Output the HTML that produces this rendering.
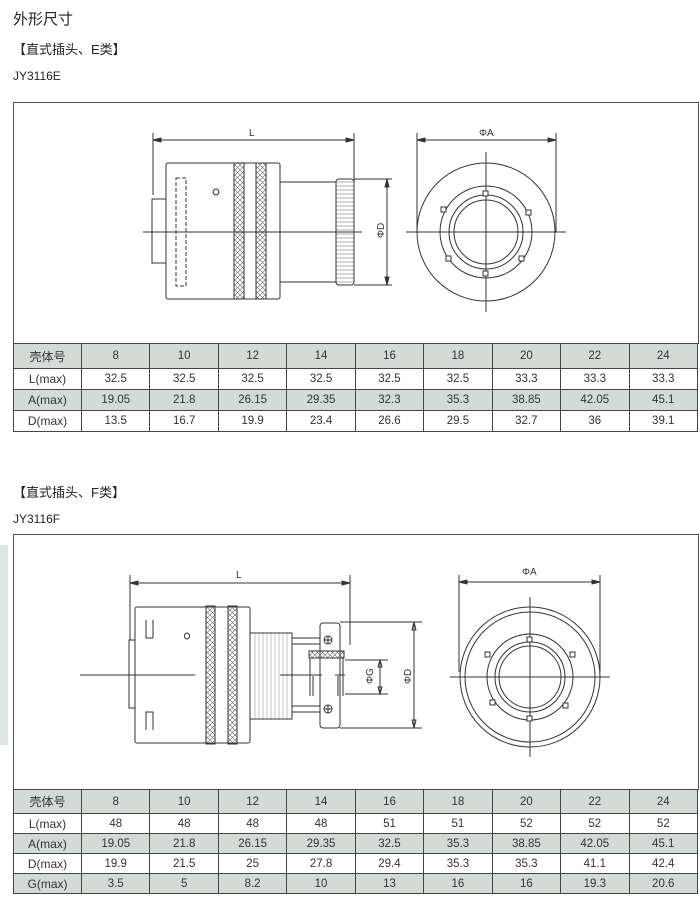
<!DOCTYPE html>
<html><head><meta charset="utf-8"><style>
body{margin:0;width:700px;height:901px;background:#fff;position:relative;font-family:"Liberation Sans","Noto Sans CJK SC",sans-serif;color:#222;overflow:hidden}
.t{position:absolute;white-space:nowrap}
table{position:absolute;left:13px;width:685px;border-collapse:collapse;font-size:11.5px;color:#333;table-layout:fixed}
td{border:1px solid #444;text-align:center;padding:0;font-family:"Liberation Sans Narrow","Liberation Sans",sans-serif}
td:first-child{width:67px;font-size:12px}
tr.g td{background:#d3dbd6}
.box{position:absolute;left:13px;width:684px;border:1px solid #555;border-bottom:none}
</style></head><body>
<div class="t" style="left:13px;top:8px;font-size:15px">外形尺寸</div>
<div class="t" style="left:13px;top:39px;font-size:13px">【直式插头、E类】</div>
<div class="t" style="left:13px;top:69px;font-size:12px">JY3116E</div>
<div class="t" style="left:13px;top:482px;font-size:13px">【直式插头、F类】</div>
<div class="t" style="left:13px;top:512px;font-size:12px">JY3116F</div>
<div style="position:absolute;left:0;top:545px;width:8px;height:200px;background:#dfe5e2"></div>

<div class="box" style="top:102px;height:241px"></div>
<div class="box" style="top:534px;height:255px"></div>

<svg width="700" height="901" style="position:absolute;left:0;top:0" fill="none" stroke="#333" stroke-width="1" font-family="Liberation Sans" font-size="10">
<defs>
<pattern id="kn" width="5" height="5" patternUnits="userSpaceOnUse"><path d="M0 0L5 5M5 0L0 5" stroke="#666" stroke-width="0.6"/></pattern>
<pattern id="rb" width="4" height="4" patternUnits="userSpaceOnUse"><path d="M0 2H4" stroke="#777" stroke-width="0.6"/></pattern>
</defs>
<g>
<path d="M153 133V195M354 133V280"/>
<path d="M153 140H354"/><path d="M153 140l8-2v4zM354 140l-8-2v4z" fill="#333"/>
<text x="249" y="136" fill="#333" stroke="none">L</text>
<rect x="166" y="163" width="114" height="136" rx="2"/>
<rect x="152" y="199" width="14" height="64"/>
<rect x="176" y="178" width="10" height="108" stroke-dasharray="4 2"/>
<circle cx="216" cy="192" r="3"/>
<rect x="234" y="163" width="10" height="136" fill="url(#kn)"/>
<rect x="256" y="163" width="10" height="136" fill="url(#kn)"/>
<rect x="280" y="182" width="56" height="100"/>
<rect x="336" y="179" width="18" height="106" rx="3" fill="url(#rb)"/>
<path d="M143 232H362"/>
<path d="M354 179H392M354 285H392M387 179V285"/>
<path d="M387 179l-2 8h4zM387 285l-2-8h4z" fill="#333"/>
<text x="0" y="0" fill="#333" stroke="none" transform="translate(384,238) rotate(-90)">ΦD</text>
</g>
<g>
<path d="M417 133V232M556 133V232M417 140H556"/><path d="M417 140l8-2v4zM556 140l-8-2v4z" fill="#333"/>
<text x="479" y="136" fill="#333" stroke="none">ΦA</text>
<circle cx="486" cy="232" r="69"/>
<circle cx="486" cy="232" r="46"/>
<circle cx="486" cy="232" r="37"/>
<circle cx="486" cy="232" r="32"/>
<path d="M406 232H566M486 152V312"/>
<g fill="#fff"><rect x="483" y="191" width="5" height="5"/><rect x="441" y="207" width="5" height="5"/><rect x="526" y="210" width="5" height="5"/><rect x="446" y="256" width="5" height="5"/><rect x="519" y="256" width="5" height="5"/><rect x="483" y="271" width="5" height="5"/></g>
</g>
<g>
<path d="M130 575V640M350 575V645"/>
<path d="M130 583H350"/><path d="M130 583l8-2v4zM350 583l-8-2v4z" fill="#333"/>
<text x="236" y="578" fill="#333" stroke="none">L</text>
<rect x="135" y="607" width="115" height="136" rx="2"/>
<rect x="129" y="640" width="6" height="68"/>
<path d="M146 620v18h7v-18M146 730v-18h7v18"/>
<ellipse cx="187" cy="636" rx="2.5" ry="3"/>
<rect x="206" y="606" width="9" height="138" fill="url(#kn)"/>
<rect x="228" y="606" width="9" height="138" fill="url(#kn)"/>
<rect x="250" y="633" width="42" height="86"/>
<path d="M255 633v86M259 633v86M263 633v86M267 633v86M271 633v86M275 633v86M279 633v86M283 633v86M287 633v86" stroke="#999" stroke-width="0.6"/>
<path d="M292 638H320M292 644H320M292 706H320M292 712H320"/>
<rect x="320" y="623" width="20" height="105" rx="3"/>
<circle cx="328" cy="640" r="4"/><path d="M324 640h8M328 636v8"/>
<circle cx="328" cy="709" r="4"/><path d="M324 709h8M328 705v8"/>
<rect x="309" y="651" width="35" height="7" fill="url(#kn)"/>
<path d="M310 658v38M343 658v38M313 676v20M338 676v20"/>
<path d="M80 675H195M280 675H322M335 675H345"/>
<path d="M345 660H388M345 694H388M380 660V694M380 660l-2 7h4zM380 694l-2-7h4z"/>
<text fill="#333" stroke="none" transform="translate(373,684) rotate(-90)">ΦG</text>
<path d="M340 622H422M340 728H422M414 622V728M414 622l-2 8h4zM414 728l-2-8h4z"/>
<text fill="#333" stroke="none" transform="translate(411,684) rotate(-90)">ΦD</text>
</g>
<g>
<path d="M459 575V672M600 575V672M459 582H600"/><path d="M459 582l8-2v4zM600 582l-8-2v4z" fill="#333"/>
<text x="522" y="575" fill="#333" stroke="none">ΦA</text>
<circle cx="530" cy="677" r="70"/>
<circle cx="530" cy="677" r="65"/>
<circle cx="530" cy="677" r="43"/>
<circle cx="530" cy="677" r="35"/>
<circle cx="530" cy="677" r="31"/>
<path d="M450 677H610M530 597V757"/>
<g fill="#fff"><rect x="527" y="637" width="5" height="5"/><rect x="485" y="652" width="5" height="5"/><rect x="570" y="652" width="5" height="5"/><rect x="490" y="700" width="5" height="5"/><rect x="563" y="703" width="5" height="5"/><rect x="527" y="716" width="5" height="5"/></g>
</g>
</svg>

<table style="top:343px">
<tr class="g" style="height:25px"><td>壳体号</td><td>8</td><td>10</td><td>12</td><td>14</td><td>16</td><td>18</td><td>20</td><td>22</td><td>24</td></tr>
<tr style="height:21px"><td>L(max)</td><td>32.5</td><td>32.5</td><td>32.5</td><td>32.5</td><td>32.5</td><td>32.5</td><td>33.3</td><td>33.3</td><td>33.3</td></tr>
<tr class="g" style="height:21px"><td>A(max)</td><td>19.05</td><td>21.8</td><td>26.15</td><td>29.35</td><td>32.3</td><td>35.3</td><td>38.85</td><td>42.05</td><td>45.1</td></tr>
<tr style="height:21px"><td>D(max)</td><td>13.5</td><td>16.7</td><td>19.9</td><td>23.4</td><td>26.6</td><td>29.5</td><td>32.7</td><td>36</td><td>39.1</td></tr>
</table>
<table style="top:789px">
<tr class="g" style="height:24px"><td>壳体号</td><td>8</td><td>10</td><td>12</td><td>14</td><td>16</td><td>18</td><td>20</td><td>22</td><td>24</td></tr>
<tr style="height:20px"><td>L(max)</td><td>48</td><td>48</td><td>48</td><td>48</td><td>51</td><td>51</td><td>52</td><td>52</td><td>52</td></tr>
<tr class="g" style="height:20px"><td>A(max)</td><td>19.05</td><td>21.8</td><td>26.15</td><td>29.35</td><td>32.5</td><td>35.3</td><td>38.85</td><td>42.05</td><td>45.1</td></tr>
<tr style="height:20px"><td>D(max)</td><td>19.9</td><td>21.5</td><td>25</td><td>27.8</td><td>29.4</td><td>35.3</td><td>35.3</td><td>41.1</td><td>42.4</td></tr>
<tr class="g" style="height:20px"><td>G(max)</td><td>3.5</td><td>5</td><td>8.2</td><td>10</td><td>13</td><td>16</td><td>16</td><td>19.3</td><td>20.6</td></tr>
</table>
</body></html>
